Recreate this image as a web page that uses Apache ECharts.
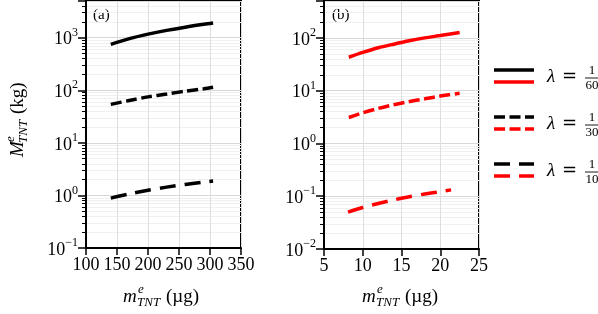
<!DOCTYPE html>
<html><head><meta charset="utf-8">
<script src="https://cdn.jsdelivr.net/npm/echarts@6/dist/echarts.min.js"></script>
<style>html,body{margin:0;padding:0;background:#fff}#c{width:598px;height:314px}</style>
</head><body><div id="c"></div>
<script>
// Panel (a): m_TNT in µg, M_TNT in kg
const aX = [140, 170, 200, 230, 260, 290, 305];
const aSolid = [750, 960, 1170, 1380, 1590, 1800, 1900];   // lambda = 1/60
const aDash = [54, 64, 75, 85, 96, 107, 114];               // lambda = 1/30
const aLong = [0.89, 1.07, 1.25, 1.44, 1.62, 1.80, 1.88];   // lambda = 1/10
// Panel (b)
const bX = [8.2, 10, 12, 14, 16, 18, 20, 22.5];
const bSolid = [43, 53, 65, 76, 88, 100, 111, 127];
const bDash = [3.1, 3.8, 4.6, 5.4, 6.2, 7.0, 7.9, 8.9];
const bXLong = [8.1, 10, 12, 14, 16, 18, 20, 21.4];
const bLong = [0.050, 0.061, 0.073, 0.085, 0.098, 0.110, 0.122, 0.132];
const legendLabels = ['60', '30', '10'];
const panelTags = ['(a)', '(b)'];

const FONT = 'Liberation Serif';
const pair = (xs, ys) => xs.map((x, i) => [x, ys[i]]);
function logLabel(v) {
  const e = Math.log10(v);
  const r = Math.round(e);
  if (Math.abs(e - r) > 1e-6) return '';
  return '{b|10}{s|' + String(r).replace('-', '\u2212') + '}';
}
const yRich = {
  b: {fontFamily: FONT, fontSize: 18, color: '#000', lineHeight: 22, verticalAlign: 'bottom'},
  s: {fontFamily: FONT, fontSize: 12, color: '#000', lineHeight: 12, verticalAlign: 'top'}
};
function xAxisCfg(idx, min, max, interval) {
  return {
    type: 'value', gridIndex: idx, min, max, interval,
    axisLine: {show: true, lineStyle: {color: '#000', width: 2}},
    axisTick: {show: true, length: 7, lineStyle: {color: '#000', width: 1.5}},
    axisLabel: {fontFamily: FONT, fontSize: 18, color: '#000', margin: 8},
    splitLine: {show: true, lineStyle: {color: '#dedede', width: 1}}
  };
}
function yAxisCfg(idx, min, max) {
  return {
    type: 'log', gridIndex: idx, min, max, logBase: 10,
    axisLine: {show: true, lineStyle: {color: '#000', width: 2}},
    axisTick: {show: true, length: 8, lineStyle: {color: '#000', width: 1.5}},
    minorTick: {show: true, splitNumber: 9, length: 4, lineStyle: {color: '#000', width: 1}},
    minorSplitLine: {show: true, lineStyle: {color: '#f0f0f0', width: 1}},
    axisLabel: {formatter: logLabel, rich: yRich, margin: 8, showMaxLabel: false},
    splitLine: {show: true, lineStyle: {color: '#d8d8d8', width: 1}}
  };
}
const W = 3.5;
function ser(name, xi, data, color, dash) {
  return {
    name, type: 'line', xAxisIndex: xi, yAxisIndex: xi, data, showSymbol: false, symbol: 'none',
    smooth: 0.3, clip: true,
    lineStyle: {color, width: W, type: dash || 'solid', cap: 'butt'}
  };
}
const D1 = [11, 4.5], D2 = [16, 9];

function titleGroup(cx, cy, letter, unit, rot) {
  const els = [
    {type: 'text', x: -40, y: 0, style: {text: letter, font: 'italic 19px ' + FONT, fill: '#000', textAlign: 'left', textVerticalAlign: 'middle'}},
    {type: 'text', x: -25, y: -7, style: {text: 'e', font: 'italic 13px ' + FONT, fill: '#000', textAlign: 'left', textVerticalAlign: 'middle'}},
    {type: 'text', x: -26, y: 6, style: {text: 'TNT', font: 'italic 13px ' + FONT, fill: '#000', textAlign: 'left', textVerticalAlign: 'middle'}},
    {type: 'text', x: 3, y: 0, style: {text: unit, font: '19px ' + FONT, fill: '#000', textAlign: 'left', textVerticalAlign: 'middle'}}
  ];
  return {type: 'group', x: cx, y: cy, rotation: rot || 0, children: els};
}
function legendGroup(y0, dash, den) {
  const ls = dash ? dash : null;
  return {type: 'group', x: 0, y: 0, children: [
    {type: 'line', shape: {x1: 494, y1: y0, x2: 534, y2: y0}, style: {stroke: '#000', lineWidth: W, lineDash: ls}},
    {type: 'line', shape: {x1: 494, y1: y0 + 12, x2: 534, y2: y0 + 12}, style: {stroke: '#f00', lineWidth: W, lineDash: ls}},
    {type: 'text', x: 547, y: y0 + 7, style: {text: '\u03bb', font: 'italic 19px ' + FONT, fill: '#000', textVerticalAlign: 'middle'}},
    {type: 'text', x: 562, y: y0 + 7, style: {text: '=', font: '18px DejaVu Serif', fill: '#000', textVerticalAlign: 'middle'}},
    {type: 'text', x: 592, y: y0 + 1, style: {text: '1', font: '13px ' + FONT, fill: '#000', textAlign: 'center', textVerticalAlign: 'middle'}},
    {type: 'line', shape: {x1: 585, y1: y0 + 8, x2: 599, y2: y0 + 8}, style: {stroke: '#000', lineWidth: 0.9}},
    {type: 'text', x: 592, y: y0 + 16, style: {text: den, font: '13px ' + FONT, fill: '#000', textAlign: 'center', textVerticalAlign: 'middle'}}
  ]};
}

const chart = echarts.init(document.getElementById('c'), null, {renderer: 'canvas'});
chart.setOption({
  animation: false,
  backgroundColor: '#fff',
  grid: [
    {left: 86, top: 1, width: 155, height: 247, show: true, borderColor: '#000', borderWidth: 2, backgroundColor: 'transparent'},
    {left: 324, top: 1, width: 155, height: 248, show: true, borderColor: '#000', borderWidth: 2, backgroundColor: 'transparent'}
  ],
  xAxis: [xAxisCfg(0, 100, 350, 50), xAxisCfg(1, 5, 25, 5)],
  yAxis: [yAxisCfg(0, 0.1, 5000), yAxisCfg(1, 0.01, 500)],
  series: [
    ser('a1', 0, pair(aX, aSolid), '#000'),
    ser('a2', 0, pair(aX, aDash), '#000', D1),
    ser('a3', 0, pair(aX, aLong), '#000', D2),
    ser('b1', 1, pair(bX, bSolid), '#f00'),
    ser('b2', 1, pair(bX, bDash), '#f00', D1),
    ser('b3', 1, pair(bXLong, bLong), '#f00', D2)
  ],
  graphic: [
    {type: 'text', x: 93, y: 15, style: {text: panelTags[0], font: '15px ' + FONT, fill: '#000', textVerticalAlign: 'middle'}},
    {type: 'text', x: 332, y: 15, style: {text: panelTags[1], font: '15px ' + FONT, fill: '#000', textVerticalAlign: 'middle'}},
    titleGroup(163, 297, 'm', '(\u00b5g)'),
    titleGroup(402, 297, 'm', '(\u00b5g)'),
    titleGroup(18, 117, 'M', '(kg)', Math.PI / 2),
    legendGroup(70, null, legendLabels[0]),
    legendGroup(117, D1, legendLabels[1]),
    legendGroup(164, D2, legendLabels[2])
  ]
});
</script></body></html>
